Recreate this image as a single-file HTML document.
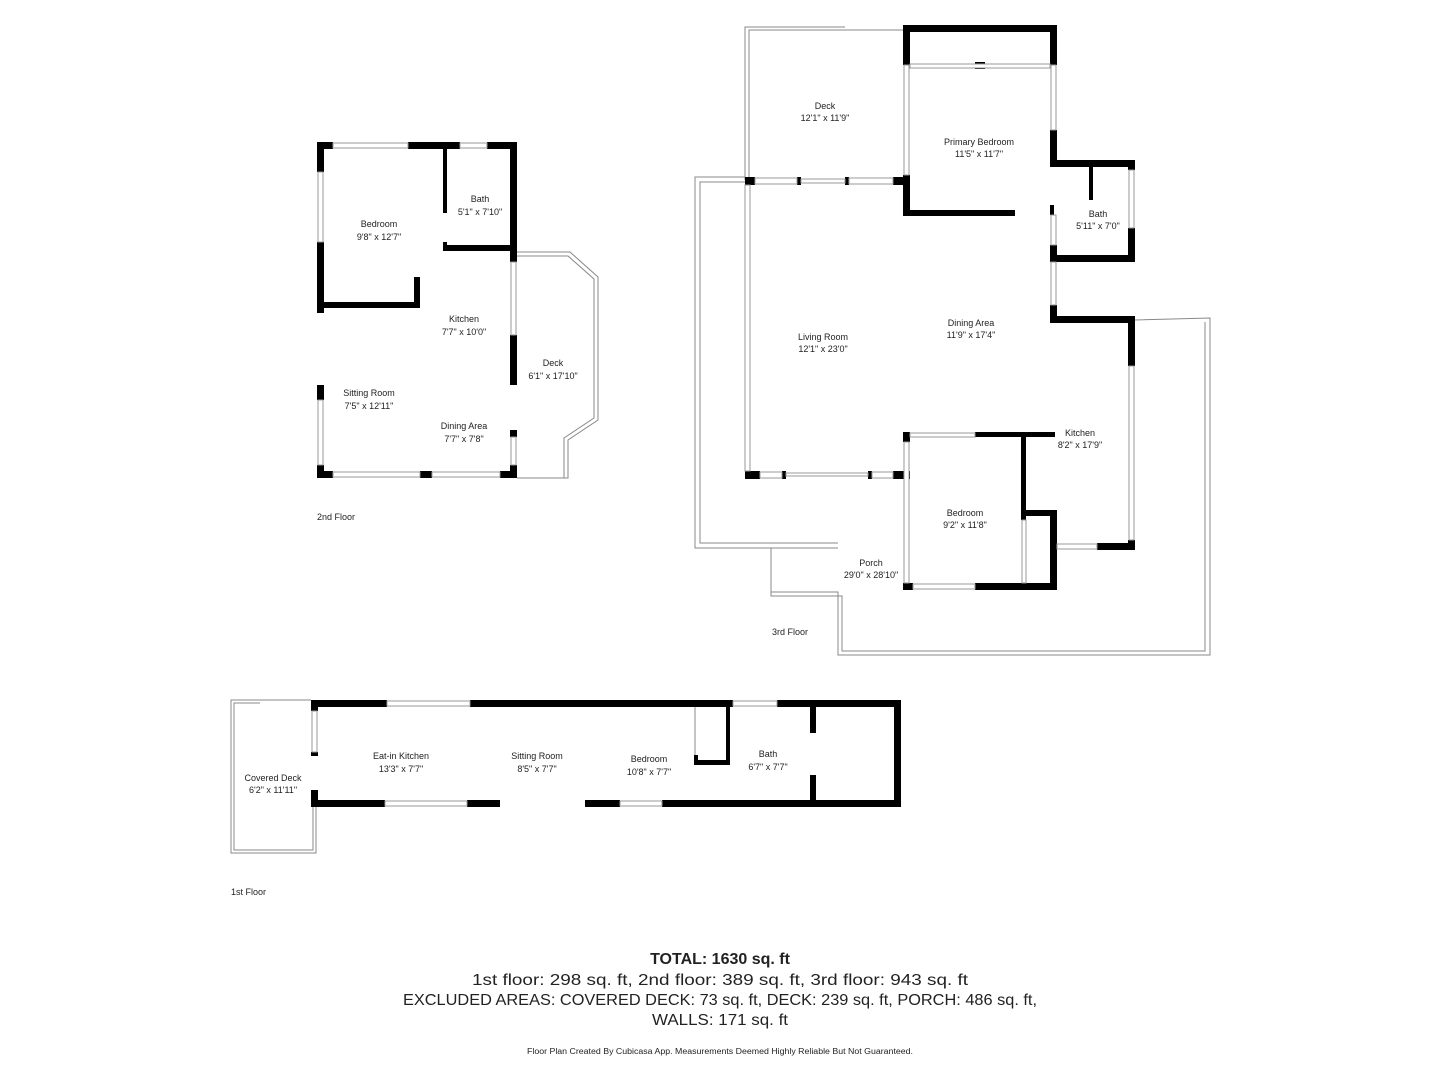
<!DOCTYPE html>
<html><head><meta charset="utf-8"><style>
html,body{margin:0;padding:0;background:#fff;}
svg{display:block;}
text{font-family:"Liberation Sans",sans-serif;fill:#222;}
.l{font-size:9px;text-anchor:middle;}
.w{fill:#fff;stroke:#999;stroke-width:1;}
.d{fill:none;stroke:#888;stroke-width:1;}
</style></head><body>
<svg width="1440" height="1080" viewBox="0 0 1440 1080" xmlns="http://www.w3.org/2000/svg">
<!-- 2nd floor -->
<g fill="#000">
<rect x="317" y="142" width="16" height="7"/><rect x="408" y="142" width="52" height="7"/><rect x="487" y="142" width="30" height="7"/>
<rect x="317" y="142" width="7" height="30"/><rect x="317" y="242" width="7" height="71"/><rect x="317" y="385" width="7" height="15"/><rect x="317" y="465" width="7" height="13"/>
<rect x="317" y="471" width="16" height="7"/><rect x="420" y="471" width="12" height="7"/><rect x="500" y="471" width="17" height="7"/>
<rect x="510" y="142" width="7" height="120"/><rect x="510" y="335" width="7" height="50"/><rect x="510" y="430" width="7" height="7"/><rect x="510" y="465" width="7" height="13"/>
<rect x="443" y="145" width="4" height="68"/><rect x="443" y="245" width="74" height="6"/><rect x="443" y="242" width="4" height="9"/>
<rect x="320" y="302" width="100" height="6"/><rect x="414" y="277" width="6" height="31"/>
</g>
<rect class="w" x="333" y="143" width="75" height="5"/><rect class="w" x="460" y="143" width="27" height="5"/>
<rect class="w" x="318" y="172" width="5" height="70"/><rect class="w" x="318" y="400" width="5" height="65"/>
<rect class="w" x="333" y="472" width="87" height="5"/><rect class="w" x="432" y="472" width="68" height="5"/>
<rect class="w" x="511" y="262" width="5" height="73"/><rect class="w" x="511" y="437" width="5" height="28"/>
<path class="d" d="M517 252 L570 252 L598 277 L598 420 L568 440 L568 478 L517 478"/>
<path class="d" d="M517 256 L568 256 L594 279 L594 418 L564 438 L564 478"/>
<text class="l" x="480" y="202">Bath</text><text class="l" x="480" y="215">5'1" x 7'10"</text>
<text class="l" x="379" y="227">Bedroom</text><text class="l" x="379" y="240">9'8" x 12'7"</text>
<text class="l" x="464" y="322">Kitchen</text><text class="l" x="464" y="335">7'7" x 10'0"</text>
<text class="l" x="553" y="366">Deck</text><text class="l" x="553" y="379">6'1" x 17'10"</text>
<text class="l" x="369" y="396">Sitting Room</text><text class="l" x="369" y="409">7'5" x 12'11"</text>
<text class="l" x="464" y="429">Dining Area</text><text class="l" x="464" y="442">7'7" x 7'8"</text>
<text x="317" y="520" style="font-size:9px">2nd Floor</text>

<!-- 3rd floor porch/deck outlines -->
<path class="d" d="M745 180 L745 27 L845 27"/><path class="d" d="M749 180 L749 30 L903 30"/>
<path class="d" d="M745 177 L695 177 L695 548 L838 548"/><path class="d" d="M745 182 L700 182 L700 543 L838 543"/>
<path class="d" d="M771 548 L771 592 L838 592 L838 655 L1210 655 L1210 318 L1135 320"/>
<path class="d" d="M771 548 L771 596 L842 596 L842 651 L1205 651 L1205 322"/>
<g fill="#000">
<rect x="903" y="25" width="154" height="7"/><rect x="903" y="25" width="7" height="40"/><rect x="1050" y="25" width="7" height="40"/>
<rect x="903" y="175" width="7" height="41"/><rect x="903" y="210" width="112" height="6"/>
<rect x="1050" y="130" width="7" height="37"/><rect x="1050" y="160" width="85" height="7"/><rect x="1128" y="160" width="7" height="10"/><rect x="1128" y="228" width="7" height="34"/>
<rect x="1050" y="255" width="85" height="7"/><rect x="1050" y="245" width="7" height="17"/><rect x="1089" y="160" width="4" height="40"/><rect x="1050" y="205" width="4" height="10"/>
<rect x="745" y="177" width="10" height="8"/><rect x="797" y="177" width="4" height="8"/><rect x="845" y="177" width="4" height="8"/><rect x="893" y="177" width="17" height="8"/>
<rect x="745" y="471" width="15" height="8"/><rect x="782" y="471" width="4" height="8"/><rect x="868" y="471" width="4" height="8"/><rect x="893" y="471" width="17" height="8"/>
<rect x="1050" y="305" width="7" height="17"/><rect x="1050" y="316" width="85" height="7"/><rect x="1128" y="316" width="7" height="50"/>
<rect x="1128" y="540" width="7" height="10"/><rect x="1097" y="543" width="38" height="7"/>
<rect x="903" y="432" width="7" height="10"/><rect x="975" y="432" width="80" height="5"/><rect x="1021" y="432" width="5" height="88"/>
<rect x="1021" y="510" width="36" height="6"/><rect x="1050" y="510" width="7" height="80"/>
<rect x="903" y="583" width="10" height="7"/><rect x="975" y="583" width="82" height="7"/>
<rect x="975" y="62" width="10" height="7"/>
</g>
<rect class="w" x="910" y="64" width="140" height="4"/>
<rect class="w" x="904" y="65" width="5" height="110"/><rect class="w" x="1051" y="65" width="5" height="65"/>
<rect class="w" x="1129" y="170" width="5" height="58"/>
<rect class="w" x="1051" y="262" width="5" height="43"/><rect class="w" x="1051" y="215" width="5" height="30"/>
<rect class="w" x="755" y="178" width="42" height="6"/><rect class="w" x="801" y="179" width="44" height="4"/><rect class="w" x="849" y="178" width="44" height="6"/>
<rect class="w" x="745" y="185" width="5" height="286"/>
<rect class="w" x="760" y="472" width="22" height="6"/><rect class="w" x="786" y="473" width="82" height="3"/><rect class="w" x="872" y="472" width="21" height="6"/>
<rect class="w" x="1129" y="366" width="5" height="174"/><rect class="w" x="1057" y="544" width="40" height="5"/>
<rect class="w" x="910" y="433" width="65" height="4"/>
<rect class="w" x="904" y="442" width="5" height="141"/>
<rect class="w" x="913" y="584" width="62" height="5"/>
<rect class="w" x="1022" y="520" width="4" height="63"/>
<text class="l" x="825" y="109">Deck</text><text class="l" x="825" y="121">12'1" x 11'9"</text>
<text class="l" x="979" y="145">Primary Bedroom</text><text class="l" x="979" y="157">11'5" x 11'7"</text>
<text class="l" x="1098" y="217">Bath</text><text class="l" x="1098" y="229">5'11" x 7'0"</text>
<text class="l" x="971" y="326">Dining Area</text><text class="l" x="971" y="338">11'9" x 17'4"</text>
<text class="l" x="823" y="340">Living Room</text><text class="l" x="823" y="352">12'1" x 23'0"</text>
<text class="l" x="1080" y="436">Kitchen</text><text class="l" x="1080" y="448">8'2" x 17'9"</text>
<text class="l" x="965" y="516">Bedroom</text><text class="l" x="965" y="528">9'2" x 11'8"</text>
<text class="l" x="871" y="566">Porch</text><text class="l" x="871" y="578">29'0" x 28'10"</text>
<text x="772" y="635" style="font-size:9px">3rd Floor</text>

<!-- 1st floor -->
<path class="d" d="M260 700 L231 700 L231 853 L316 853 L316 807"/>
<path class="d" d="M260 703 L234 703 L234 850 L313 850 L313 807"/>
<path class="d" d="M260 700 L311 700"/>
<g fill="#000">
<rect x="311" y="700" width="76" height="7"/><rect x="470" y="700" width="263" height="7"/><rect x="777" y="700" width="124" height="7"/>
<rect x="311" y="700" width="7" height="11"/><rect x="311" y="752" width="7" height="4"/><rect x="311" y="790" width="7" height="17"/>
<rect x="311" y="800" width="74" height="7"/><rect x="467" y="800" width="33" height="7"/><rect x="585" y="800" width="35" height="7"/><rect x="662" y="800" width="239" height="7"/>
<rect x="894" y="700" width="7" height="107"/><rect x="810" y="700" width="6" height="33"/><rect x="810" y="775" width="6" height="32"/>
<rect x="726" y="700" width="4" height="65"/><rect x="694" y="760" width="36" height="5"/><rect x="694" y="755" width="4" height="10"/>
</g>
<rect class="w" x="387" y="701" width="83" height="5"/><rect class="w" x="733" y="701" width="44" height="5"/>
<rect class="w" x="312" y="711" width="5" height="41"/><rect class="w" x="385" y="801" width="82" height="5"/><rect class="w" x="620" y="801" width="42" height="5"/>
<path class="d" d="M695 707 L695 755"/>
<text class="l" x="273" y="781">Covered Deck</text><text class="l" x="273" y="793">6'2" x 11'11"</text>
<text class="l" x="401" y="759">Eat-in Kitchen</text><text class="l" x="401" y="772">13'3" x 7'7"</text>
<text class="l" x="537" y="759">Sitting Room</text><text class="l" x="537" y="772">8'5" x 7'7"</text>
<text class="l" x="649" y="762">Bedroom</text><text class="l" x="649" y="775">10'8" x 7'7"</text>
<text class="l" x="768" y="757">Bath</text><text class="l" x="768" y="770">6'7" x 7'7"</text>
<text x="231" y="895" style="font-size:9px">1st Floor</text>

<!-- footer -->
<text x="720" y="964" style="font-size:16px;font-weight:bold;text-anchor:middle">TOTAL: 1630 sq. ft</text>
<text x="720" y="985" style="font-size:16px;text-anchor:middle" textLength="496" lengthAdjust="spacingAndGlyphs">1st floor: 298 sq. ft, 2nd floor: 389 sq. ft, 3rd floor: 943 sq. ft</text>
<text x="720" y="1005" style="font-size:16px;text-anchor:middle" textLength="634" lengthAdjust="spacingAndGlyphs">EXCLUDED AREAS: COVERED DECK: 73 sq. ft, DECK: 239 sq. ft, PORCH: 486 sq. ft,</text>
<text x="720" y="1025" style="font-size:16px;text-anchor:middle" textLength="136" lengthAdjust="spacingAndGlyphs">WALLS: 171 sq. ft</text>
<text x="720" y="1054" style="font-size:8px;text-anchor:middle" textLength="386" lengthAdjust="spacingAndGlyphs">Floor Plan Created By Cubicasa App. Measurements Deemed Highly Reliable But Not Guaranteed.</text>
</svg>
</body></html>
